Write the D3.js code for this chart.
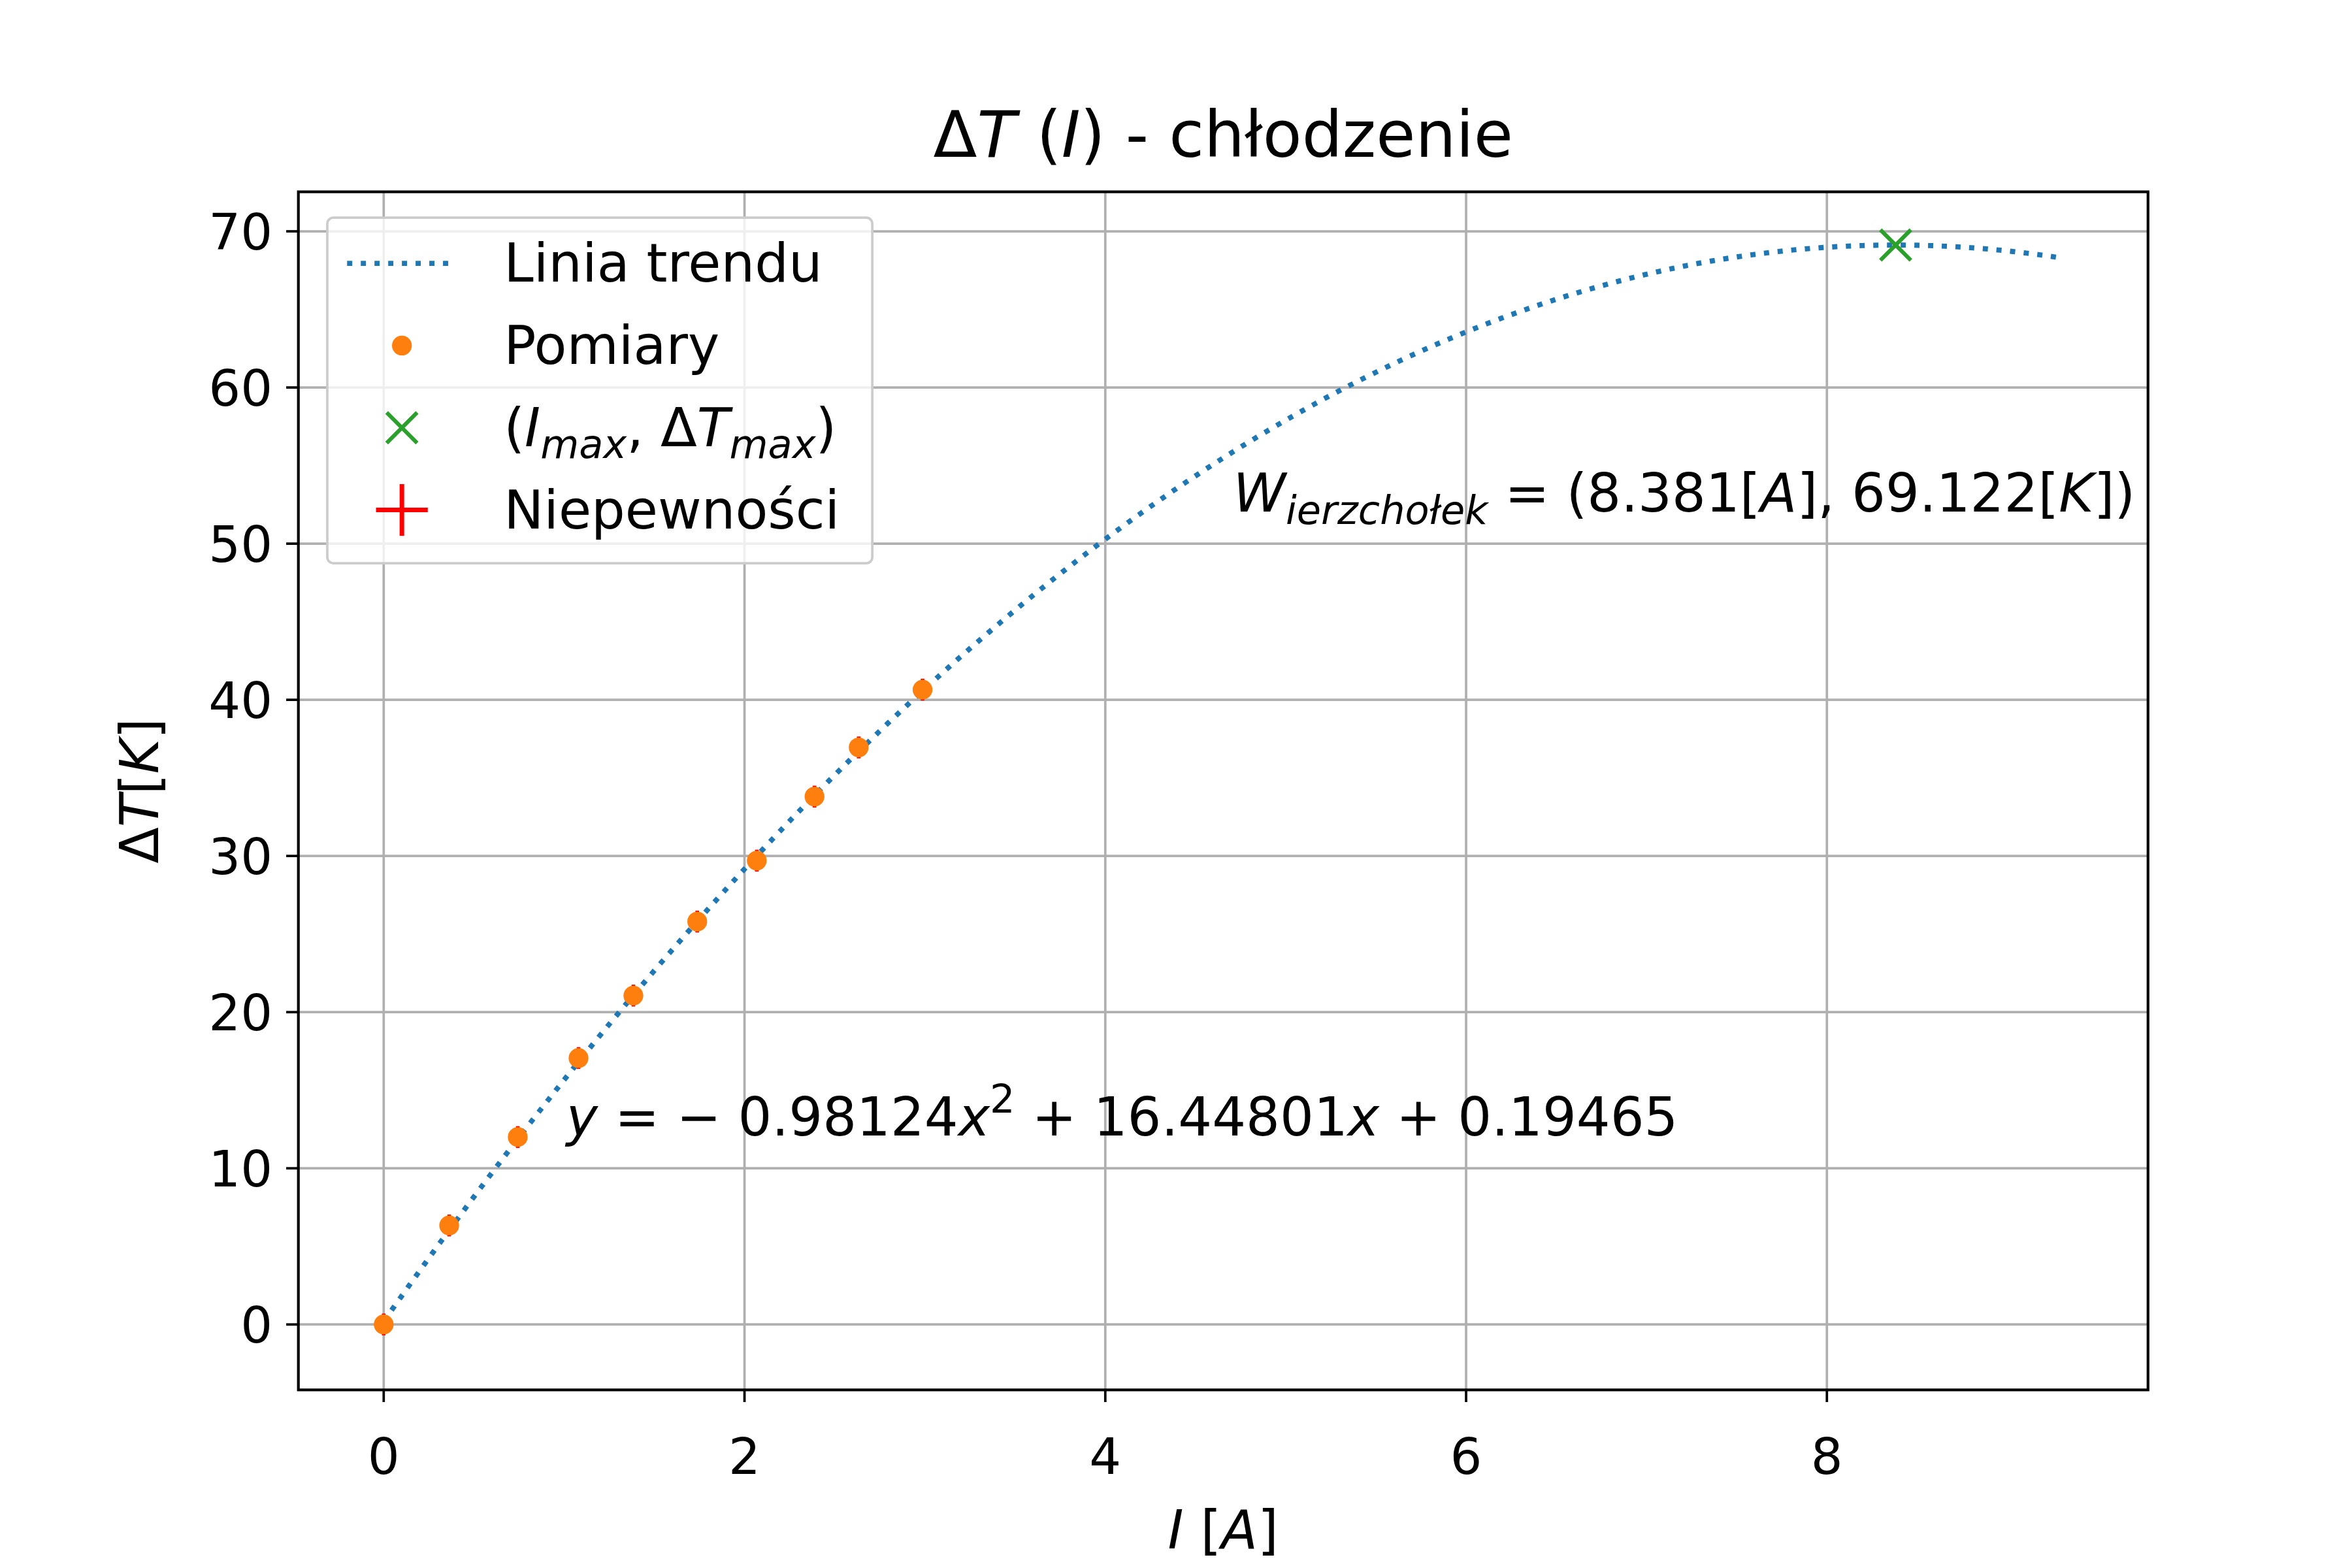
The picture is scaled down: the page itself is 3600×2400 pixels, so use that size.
<!DOCTYPE html>
<html><head><meta charset="utf-8">
<script src="https://cdn.jsdelivr.net/npm/d3@7"></script>
<style>body{margin:0;background:#fff}text{font-family:"DejaVu Sans",sans-serif;fill:#000}</style>
</head><body>
<svg id="c" width="3600" height="2400" viewBox="0 0 1545 1030"></svg>
<script>
// measurements
var currentI = [0, 0.363, 0.743, 1.08, 1.384, 1.738, 2.068, 2.388, 2.633, 2.987];
var deltaT = [0, 6.34, 12.0, 17.06, 21.06, 25.8, 29.7, 33.8, 36.95, 40.65];
var errI = 0.03, errT = 0.7;
// trend coefficients a, b, c
var trendCoef = [-0.98124, 16.44801, 0.19465];
var trendRange = [0, 9.31];
var vertex = [8.381, 69.122];
var xTicks = [0, 2, 4, 6, 8];
var yTicks = [0, 10, 20, 30, 40, 50, 60, 70];

var FS = 35, SUB = 26;
var svg = d3.select("#c");
var L = 196, R = 1411, T = 126, B = 913;
var x = d3.scaleLinear().domain([-0.473, 9.78]).range([L, R]);
var y = d3.scaleLinear().domain([-4.19, 72.53]).range([B, T]);

svg.append("rect").attr("width", 1545).attr("height", 1030).attr("fill", "#fff");
var g = svg.append("g");
xTicks.forEach(function (t) {
	g.append("line").attr("x1", x(t)).attr("x2", x(t)).attr("y1", T).attr("y2", B).attr("stroke", "#b0b0b0").attr("stroke-width", 1.6);
	g.append("line").attr("x1", x(t)).attr("x2", x(t)).attr("y1", B).attr("y2", B + 8).attr("stroke", "#000").attr("stroke-width", 1.6);
	g.append("text").attr("x", x(t)).attr("y", B + 55).attr("text-anchor", "middle").attr("font-size", 33).text(t);
});
yTicks.forEach(function (t) {
	g.append("line").attr("x1", L).attr("x2", R).attr("y1", y(t)).attr("y2", y(t)).attr("stroke", "#b0b0b0").attr("stroke-width", 1.6);
	g.append("line").attr("x1", L - 8).attr("x2", L).attr("y1", y(t)).attr("y2", y(t)).attr("stroke", "#000").attr("stroke-width", 1.6);
	g.append("text").attr("x", L - 17).attr("y", y(t) + 12).attr("text-anchor", "end").attr("font-size", 33).text(t);
});

// trend line
var xs = d3.range(0, 201).map(function (i) { return trendRange[0] + (trendRange[1] - trendRange[0]) * i / 200; });
g.append("path").datum(xs)
	.attr("d", d3.line().x(function (d) { return x(d); }).y(function (d) { return y(trendCoef[0] * d * d + trendCoef[1] * d + trendCoef[2]); }))
	.attr("fill", "none").attr("stroke", "#1f77b4").attr("stroke-width", 3.4).attr("stroke-dasharray", "3.4,5.6");

// error bars + points
currentI.forEach(function (v, i) {
	g.append("line").attr("x1", x(v)).attr("x2", x(v)).attr("y1", y(deltaT[i] - errT)).attr("y2", y(deltaT[i] + errT)).attr("stroke", "red").attr("stroke-width", 2.4);
	g.append("line").attr("x1", x(v - errI)).attr("x2", x(v + errI)).attr("y1", y(deltaT[i])).attr("y2", y(deltaT[i])).attr("stroke", "red").attr("stroke-width", 2.4);
});
g.selectAll("circle.pt").data(currentI).enter().append("circle")
	.attr("cx", function (d) { return x(d); }).attr("cy", function (d, i) { return y(deltaT[i]); })
	.attr("r", 6.5).attr("fill", "#ff7f0e");

// vertex marker
function cross(cx, cy, s) {
	g.append("path").attr("d", "M" + (cx - s) + "," + (cy - s) + "L" + (cx + s) + "," + (cy + s) + "M" + (cx - s) + "," + (cy + s) + "L" + (cx + s) + "," + (cy - s))
		.attr("stroke", "#2ca02c").attr("stroke-width", 2.6).attr("fill", "none");
}
cross(x(vertex[0]), y(vertex[1]), 10);

// annotations
var a1 = g.append("text").attr("x", 810).attr("y", 336).attr("font-size", FS);
a1.append("tspan").attr("font-style", "italic").text("W");
a1.append("tspan").attr("font-style", "italic").attr("font-size", SUB).attr("dy", 8).text("ierzchołek");
a1.append("tspan").attr("dy", -8).text(" = (8.381[");
a1.append("tspan").attr("font-style", "italic").text("A");
a1.append("tspan").text("], 69.122[");
a1.append("tspan").attr("font-style", "italic").text("K");
a1.append("tspan").text("])");

var a2 = g.append("text").attr("x", 372).attr("y", 746).attr("font-size", FS);
a2.append("tspan").attr("font-style", "italic").text("y");
a2.append("tspan").text(" = − 0.98124");
a2.append("tspan").attr("font-style", "italic").text("x");
a2.append("tspan").attr("font-size", SUB).attr("dy", -15).text("2");
a2.append("tspan").attr("dy", 15).text(" + 16.44801");
a2.append("tspan").attr("font-style", "italic").text("x");
a2.append("tspan").text(" + 0.19465");

// frame
g.append("rect").attr("x", L).attr("y", T).attr("width", R - L).attr("height", B - T).attr("fill", "none").attr("stroke", "#000").attr("stroke-width", 1.8);

// title and axis labels
var tt = svg.append("text").attr("x", (L + R) / 2).attr("y", 103).attr("text-anchor", "middle").attr("font-size", 42);
tt.append("tspan").text("Δ");
tt.append("tspan").attr("font-style", "italic").text("T");
tt.append("tspan").text(" (");
tt.append("tspan").attr("font-style", "italic").text("I");
tt.append("tspan").text(") - chłodzenie");

var xl = svg.append("text").attr("x", (L + R) / 2).attr("y", 1017).attr("text-anchor", "middle").attr("font-size", FS);
xl.append("tspan").attr("font-style", "italic").text("I");
xl.append("tspan").text(" [");
xl.append("tspan").attr("font-style", "italic").text("A");
xl.append("tspan").text("]");

var yl = svg.append("text").attr("transform", "translate(104," + (T + B) / 2 + ") rotate(-90)").attr("text-anchor", "middle").attr("font-size", FS);
yl.append("tspan").text("Δ");
yl.append("tspan").attr("font-style", "italic").text("T");
yl.append("tspan").text("[");
yl.append("tspan").attr("font-style", "italic").text("K");
yl.append("tspan").text("]");

// legend
var lg = svg.append("g");
lg.append("rect").attr("x", 215).attr("y", 143).attr("width", 358).attr("height", 227).attr("rx", 4)
	.attr("fill", "#fff").attr("fill-opacity", 0.8).attr("stroke", "#ccc").attr("stroke-width", 1.6);
var rows = [173, 227, 281, 335];
lg.append("line").attr("x1", 228).attr("x2", 300).attr("y1", rows[0]).attr("y2", rows[0]).attr("stroke", "#1f77b4").attr("stroke-width", 3.4).attr("stroke-dasharray", "3.4,5.6");
lg.append("circle").attr("cx", 264).attr("cy", rows[1]).attr("r", 6.5).attr("fill", "#ff7f0e");
g = lg; cross(264, rows[2], 10);
lg.append("line").attr("x1", 264).attr("x2", 264).attr("y1", rows[3] - 17).attr("y2", rows[3] + 17).attr("stroke", "red").attr("stroke-width", 3);
lg.append("line").attr("x1", 247).attr("x2", 281).attr("y1", rows[3]).attr("y2", rows[3]).attr("stroke", "red").attr("stroke-width", 3);
lg.append("text").attr("x", 331).attr("y", rows[0] + 12).attr("font-size", FS).text("Linia trendu");
lg.append("text").attr("x", 331).attr("y", rows[1] + 12).attr("font-size", FS).text("Pomiary");
var l3 = lg.append("text").attr("x", 331).attr("y", rows[2] + 12).attr("font-size", FS);
l3.append("tspan").text("(");
l3.append("tspan").attr("font-style", "italic").text("I");
l3.append("tspan").attr("font-style", "italic").attr("font-size", SUB).attr("dy", 8).text("max");
l3.append("tspan").attr("dy", -8).text(", Δ");
l3.append("tspan").attr("font-style", "italic").text("T");
l3.append("tspan").attr("font-style", "italic").attr("font-size", SUB).attr("dy", 8).text("max");
l3.append("tspan").attr("dy", -8).text(")");
lg.append("text").attr("x", 331).attr("y", rows[3] + 12).attr("font-size", FS).text("Niepewności");
</script>
</body></html>
